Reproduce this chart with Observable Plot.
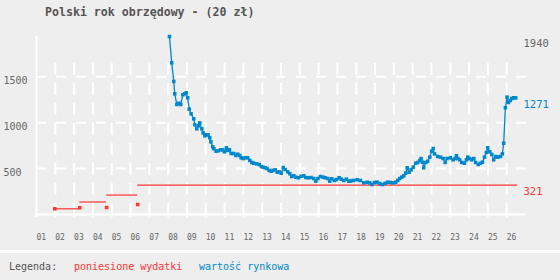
<!DOCTYPE html>
<html><head><meta charset="utf-8">
<script src="https://cdn.jsdelivr.net/npm/d3@7"></script>
<script src="https://cdn.jsdelivr.net/npm/@observablehq/plot@0.6"></script>
<style>
html,body{margin:0;padding:0;background:#eeeeee;}
#wrap{position:relative;width:560px;height:280px;background:#eeeeee;overflow:hidden;font-family:"DejaVu Sans Mono",monospace;}
#title{position:absolute;left:45px;top:6px;font-size:11.6px;line-height:12px;font-weight:bold;color:#555;white-space:pre;}
#chart{position:absolute;left:0;top:24px;}
#legend{position:absolute;left:0;top:250px;width:560px;height:27px;border-top:3px solid #fff;font-size:10px;}
#legend span{position:absolute;top:9px;line-height:10px;white-space:pre;}
</style></head>
<body><div id="wrap"><div id="title"></div><div id="chart"></div><div id="legend"></div></div>
<script>
const titleText = "Polski rok obrzędowy - (20 zł)";
const legendTitle = "Legenda:";
const seriesNames = ["poniesione wydatki", "wartość rynkowa"];
const seriesColors = ["#ff3333", "#0088cc"];

const yearLabels = ["01","02","03","04","05","06","07","08","09","10","11","12","13",
  "14","15","16","17","18","19","20","21","22","23","24","25","26"];
const yTicks = [500, 1000, 1500];

// purchases (expenses)
const purchaseDates = [2001.97, 2003.30, 2004.73, 2006.38];
const purchasePrices = [62, 74, 76, 109];
const lastDate = 2026.58;

// market value
const marketDates = [2008.07,2008.19,2008.30,2008.35,2008.46,2008.57,2008.67,2008.78,2008.88,2008.96,
2009.04,2009.12,2009.22,2009.36,2009.42,2009.52,2009.61,2009.68,2009.79,2009.86,2009.95,
2010.05,2010.12,2010.21,2010.27,2010.37,2010.43,2010.55,2010.66,2010.80,2010.90,2010.99,
2011.10,2011.17,2011.26,2011.35,2011.49,2011.60,2011.70,2011.81,2011.88,2011.99,
2012.11,2012.23,2012.34,2012.45,2012.55,2012.70,2012.84,2012.95,
2013.05,2013.16,2013.26,2013.37,2013.48,2013.58,2013.69,2013.80,2013.90,
2014.01,2014.12,2014.22,2014.36,2014.47,2014.57,2014.68,2014.79,2014.93,
2015.07,2015.21,2015.32,2015.46,2015.60,2015.74,2015.85,2015.96,
2016.10,2016.24,2016.35,2016.49,2016.59,2016.70,2016.84,2016.95,
2017.09,2017.20,2017.34,2017.48,2017.60,2017.70,2017.84,
2018.05,2018.22,2018.40,2018.58,2018.72,2018.83,2018.97,
2019.11,2019.25,2019.39,2019.54,2019.68,2019.82,2019.96,
2020.10,2020.21,2020.31,2020.42,2020.53,2020.63,2020.71,2020.81,2020.92,
2021.03,2021.16,2021.27,2021.38,2021.45,2021.52,2021.59,2021.70,2021.80,2021.91,
2022.01,2022.09,2022.16,2022.33,2022.48,2022.62,2022.73,2022.83,
2023.01,2023.15,2023.26,2023.33,2023.40,2023.50,2023.61,2023.75,2023.86,2023.93,
2024.03,2024.14,2024.25,2024.35,2024.49,2024.60,2024.71,2024.82,2024.92,2024.99,
2025.10,2025.21,2025.31,2025.42,2025.52,2025.67,2025.77,2025.84,2025.93,
2026.02,2026.09,2026.19,2026.27,2026.37,2026.48];
const marketValues = [1940,1653,1450,1315,1199,1213,1199,1305,1315,1326,
1272,1148,1097,1043,978,934,967,999,934,890,858,
869,869,836,792,738,716,690,694,705,705,683,
727,698,705,665,665,643,657,643,618,610,
618,618,589,567,559,552,545,523,
516,509,501,480,472,480,487,461,465,
450,512,490,465,444,414,422,407,400,
417,422,403,400,403,392,363,392,
414,407,400,392,363,389,371,381,
400,385,371,385,363,365,371,
378,371,345,352,345,327,349,
352,338,327,341,352,349,345,
352,371,392,407,422,450,509,461,487,
516,559,567,589,610,570,509,567,581,625,
690,719,661,632,625,610,567,610,
618,596,610,640,610,596,567,559,596,625,
610,596,610,567,545,559,570,625,676,727,
683,654,596,632,625,632,661,777,1163,
1279,1221,1243,1264,1272,1271];

// derived tables
const market = marketDates.map((d, i) => ({date: d, value: marketValues[i]}));
let cum = 0;
const purchases = purchaseDates.map((d, i) => {
  cum += purchasePrices[i];
  return {date: d, price: purchasePrices[i], total: cum, end: i < purchaseDates.length - 1 ? purchaseDates[i + 1] : lastDate};
});
const yearTicks = yearLabels.map(l => 2000 + +l);
const maxValue = d3.max(marketValues);
const rightLabels = [
  {value: maxValue, color: "#666"},
  {value: marketValues[marketValues.length - 1], color: seriesColors[1]},
  {value: cum, color: seriesColors[0]}
];

const chart = Plot.plot({
  width: 560, height: 226,
  marginTop: 12, marginBottom: 36, marginLeft: 36, marginRight: 35,
  style: {background: "transparent", fontFamily: "DejaVu Sans Mono, monospace", overflow: "visible"},
  x: {domain: [2001, 2027], axis: null},
  y: {domain: [0, maxValue], axis: null},
  marks: [
    Plot.ruleY(yTicks, {stroke: "#fff", strokeWidth: 2, strokeDasharray: "10,10", insetRight: -2}),
    Plot.ruleX(yearTicks.slice(1), {stroke: "#fff", strokeWidth: 2, strokeDasharray: "12,8", insetTop: 27, insetBottom: -1}),
    Plot.ruleX(yearTicks, {stroke: "#fff", strokeWidth: 2, insetTop: 177, insetBottom: -3}),
    Plot.ruleX([yearTicks[0]], {stroke: "#fff", strokeWidth: 2, insetBottom: -3}),
    Plot.ruleY([0], {stroke: "#fff", strokeWidth: 2}),
    Plot.text(yearTicks, {x: d => d, text: (d, i) => yearLabels[i], frameAnchor: "bottom", dy: 25, textAnchor: "start", fontSize: 8, fill: "#666"}),
    Plot.text(yTicks, {y: d => d, text: d => String(d), frameAnchor: "left", textAnchor: "start", dx: -33, dy: 4, fontSize: 10, fill: "#666"}),
    Plot.text(rightLabels, {y: "value", text: d => String(d.value), fill: d => d.color, frameAnchor: "right", textAnchor: "start", dx: -2, dy: 7, fontSize: 10.5}),
    Plot.ruleY(purchases, {y: "total", x1: "date", x2: "end", stroke: seriesColors[0], strokeWidth: 1.2}),
    Plot.dot(purchases, {x: "date", y: "price", symbol: "square", r: 2, fill: seriesColors[0]}),
    Plot.line(market, {x: "date", y: "value", stroke: seriesColors[1], strokeWidth: 1.3}),
    Plot.dot(market, {x: "date", y: "value", symbol: "square", r: 2, fill: seriesColors[1]})
  ]
});
document.getElementById("chart").appendChild(chart);
document.getElementById("title").textContent = titleText;
const legend = document.getElementById("legend");
const items = [{t: legendTitle, c: "#555", x: 9}, {t: seriesNames[0], c: seriesColors[0], x: 74}, {t: seriesNames[1], c: seriesColors[1], x: 199}];
for (const it of items) {
  const s = document.createElement("span");
  s.textContent = it.t; s.style.color = it.c; s.style.left = it.x + "px";
  legend.appendChild(s);
}
</script></body></html>
